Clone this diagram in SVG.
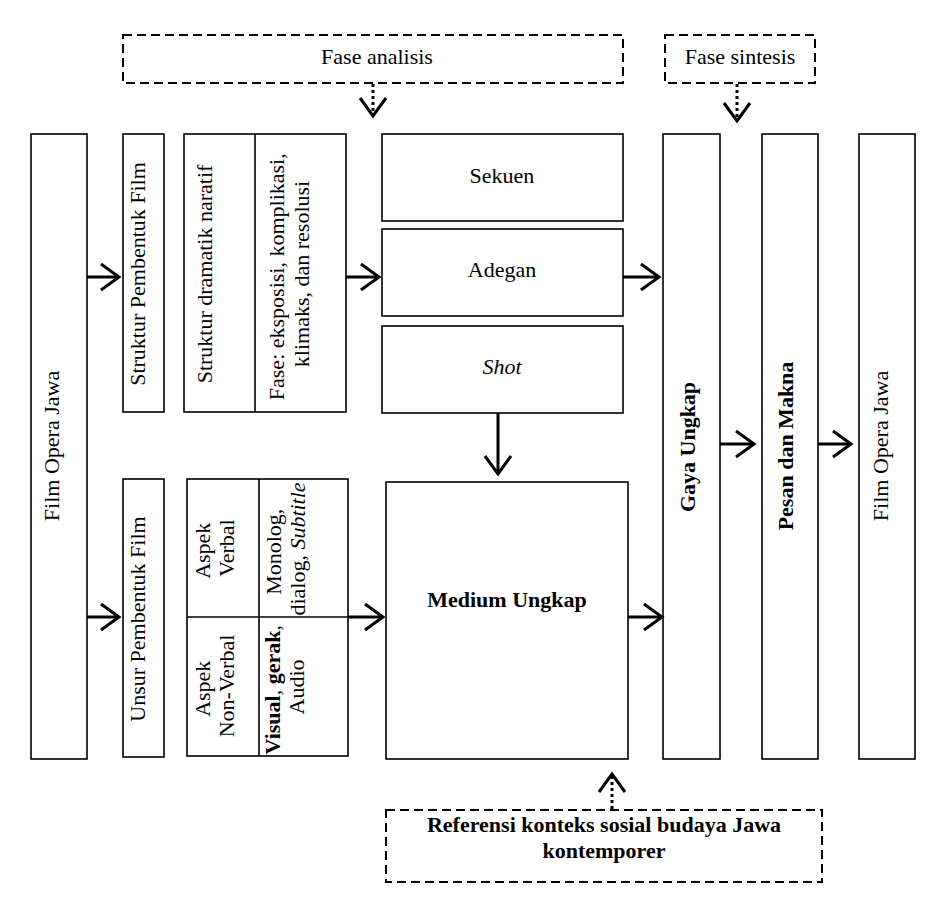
<svg xmlns="http://www.w3.org/2000/svg" width="942" height="918" viewBox="0 0 942 918">
<style>
  .box { fill: #fff; stroke: #000; stroke-width: 1.6; }
  .dash { fill: none; stroke: #000; stroke-width: 2; stroke-dasharray: 9 5; }
  .div { stroke: #000; stroke-width: 1.6; }
  .t { font-family: "Liberation Serif", "Times New Roman", serif; font-size: 22px; fill: #000; text-anchor: middle; }
  .b { font-weight: bold; }
  .i { font-style: italic; }
  .arr { fill: none; stroke: #000; stroke-width: 3; marker-end: url(#chev); }
  .dot { fill: none; stroke: #000; stroke-width: 3; stroke-dasharray: 3 3; marker-end: url(#chev); }
</style>
<defs>
  <marker id="chev" markerUnits="userSpaceOnUse" viewBox="-22 -16 26 32" refX="0" refY="0" markerWidth="26" markerHeight="32" orient="auto" overflow="visible">
    <path d="M-18,-13 L0,0 L-18,13" fill="none" stroke="#000" stroke-width="3" stroke-linejoin="miter"/>
  </marker>
</defs>
<rect width="942" height="918" fill="#fff"/>

<g id="fase-analisis">
  <rect class="dash" x="123" y="35" width="500" height="48"/>
  <text class="t" x="377" y="64">Fase analisis</text>
</g>
<g id="fase-sintesis">
  <rect class="dash" x="665" y="35" width="150" height="48"/>
  <text class="t" x="740" y="64">Fase sintesis</text>
</g>

<g id="film-opera-jawa-1">
  <rect class="box" x="31" y="134" width="56" height="625"/>
  <text class="t" transform="translate(59,446) rotate(-90)">Film Opera Jawa</text>
</g>
<g id="struktur-pembentuk">
  <rect class="box" x="123" y="134" width="41" height="278"/>
  <text class="t" transform="translate(145,274) rotate(-90)">Struktur Pembentuk Film</text>
</g>
<g id="unsur-pembentuk">
  <rect class="box" x="123" y="479" width="41" height="278"/>
  <text class="t" transform="translate(145,619) rotate(-90)">Unsur Pembentuk Film</text>
</g>
<g id="struktur-dramatik">
  <rect class="box" x="184" y="134" width="162" height="278"/>
  <line class="div" x1="255" y1="134" x2="255" y2="412"/>
  <text class="t" transform="translate(212,274) rotate(-90)">Struktur dramatik naratif</text>
  <text class="t" transform="translate(284,274) rotate(-90)">
    <tspan x="0" y="0">Fase: eksposisi, komplikasi,</tspan>
    <tspan x="0" y="25">klimaks, dan resolusi</tspan>
  </text>
</g>
<g id="aspek-grid">
  <rect class="box" x="187" y="479" width="161" height="277"/>
  <line class="div" x1="259" y1="479" x2="259" y2="756"/>
  <line class="div" x1="187" y1="617" x2="348" y2="617"/>
  <text class="t" transform="translate(210,548) rotate(-90)">
    <tspan x="0" y="0">Aspek</tspan>
    <tspan x="0" y="24">Verbal</tspan>
  </text>
  <text class="t" transform="translate(281,549) rotate(-90)">
    <tspan x="0" y="0">Monolog,</tspan>
    <tspan x="0" y="24">dialog, <tspan class="i">Subtitle</tspan></tspan>
  </text>
  <text class="t" transform="translate(210,686) rotate(-90)">
    <tspan x="0" y="0">Aspek</tspan>
    <tspan x="0" y="24">Non-Verbal</tspan>
  </text>
  <text class="t" transform="translate(280,687) rotate(-90)">
    <tspan x="0" y="0"><tspan class="b">Visual</tspan>, <tspan class="b">gerak</tspan>,</tspan>
    <tspan x="0" y="24">Audio</tspan>
  </text>
</g>
<g id="sekuen">
  <rect class="box" x="382" y="134" width="241" height="87"/>
  <text class="t" x="502" y="183">Sekuen</text>
</g>
<g id="adegan">
  <rect class="box" x="382" y="229" width="241" height="87"/>
  <text class="t" x="502" y="277">Adegan</text>
</g>
<g id="shot">
  <rect class="box" x="382" y="326" width="241" height="87"/>
  <text class="t i" x="502" y="374">Shot</text>
</g>
<g id="medium-ungkap">
  <rect class="box" x="386" y="482" width="242" height="277"/>
  <text class="t b" x="507" y="607">Medium Ungkap</text>
</g>
<g id="gaya-ungkap">
  <rect class="box" x="663" y="134" width="57" height="625"/>
  <text class="t b" transform="translate(695,447) rotate(-90)">Gaya Ungkap</text>
</g>
<g id="pesan-makna">
  <rect class="box" x="762" y="134" width="56" height="625"/>
  <text class="t b" transform="translate(793,446) rotate(-90)">Pesan dan Makna</text>
</g>
<g id="film-opera-jawa-2">
  <rect class="box" x="859" y="134" width="56" height="625"/>
  <text class="t" transform="translate(888,446) rotate(-90)">Film Opera Jawa</text>
</g>
<g id="referensi">
  <rect class="dash" x="386" y="810" width="436" height="72"/>
  <text class="t b" x="604" y="832">Referensi konteks sosial budaya Jawa</text>
  <text class="t b" x="604" y="858">kontemporer</text>
</g>

<g id="connectors">
  <line class="arr" x1="87" y1="277" x2="119" y2="277"/>
  <line class="arr" x1="87" y1="617" x2="119" y2="617"/>
  <line class="arr" x1="346" y1="277" x2="379" y2="277"/>
  <line class="arr" x1="348" y1="617" x2="383" y2="617"/>
  <line class="arr" x1="623" y1="277" x2="659" y2="277"/>
  <line class="arr" x1="628" y1="617" x2="662" y2="617"/>
  <line class="arr" x1="720" y1="444" x2="754" y2="444"/>
  <line class="arr" x1="818" y1="444" x2="851" y2="444"/>
  <line class="arr" x1="498" y1="413" x2="498" y2="474"/>
  <line class="dot" x1="373" y1="84" x2="373" y2="116"/>
  <line class="dot" x1="737" y1="84" x2="737" y2="121"/>
  <line class="dot" x1="612" y1="809" x2="612" y2="774"/>
</g>
</svg>
